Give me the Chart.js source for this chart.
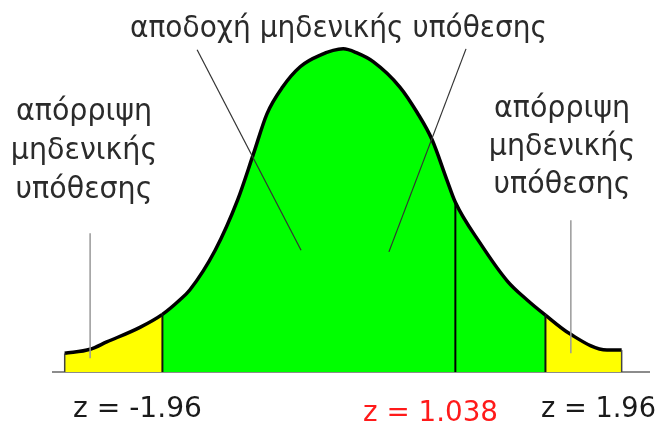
<!DOCTYPE html>
<html>
<head>
<meta charset="utf-8">
<script src="https://cdn.jsdelivr.net/npm/chart.js@4.4.1/dist/chart.umd.min.js"></script>
<style>
  html, body { margin: 0; padding: 0; background: #fff; }
</style>
</head>
<body>
<canvas id="normalChart" width="660" height="426"></canvas>
<script>
// z positions along the curve and the height of the curve at each one
const zValues = [-2.96, -2.70, -2.53, -2.19, -1.96, -1.78, -1.68, -1.42, -1.19, -1.03, -0.89, -0.73, -0.55, -0.35, -0.11, 0.03, 0.20, 0.47, 0.65, 0.80, 0.95, 1.038, 1.29, 1.57, 1.77, 1.96, 2.21, 2.59, 2.74];
const density = [0.023, 0.028, 0.037, 0.055, 0.071, 0.089, 0.101, 0.150, 0.212, 0.268, 0.318, 0.351, 0.376, 0.390, 0.398, 0.393, 0.382, 0.351, 0.319, 0.286, 0.237, 0.209, 0.159, 0.112, 0.089, 0.070, 0.047, 0.027, 0.027];

const criticalZ = [-1.96, 1.96];
const testZ = 1.038;

const titleText = 'αποδοχή μηδενικής υπόθεσης';
const rejectLines = ['απόρριψη', 'μηδενικής', 'υπόθεσης'];

const GREEN = '#00ff00';
const YELLOW = '#ffff00';

const curvePoints = zValues.map((z, i) => ({ x: z, y: density[i] }));

// vertical line from the baseline up to the curve at a given z
const dropLine = function (z, color, width) {
  const i = zValues.indexOf(z);
  return {
    data: [{ x: z, y: 0 }, { x: z, y: density[i] }],
    borderColor: color,
    borderWidth: width,
    pointRadius: 0,
    fill: false,
    order: 1
  };
};

const inReject = z => z < criticalZ[0] || z >= criticalZ[1];

// horizontally squeezed text, fitted to a width
const fitText = function (ctx, text, x, y, width, font, color) {
  ctx.save();
  ctx.font = font;
  ctx.fillStyle = color;
  ctx.textAlign = 'left';
  ctx.textBaseline = 'alphabetic';
  const w = ctx.measureText(text).width;
  ctx.translate(x, y);
  ctx.scale(width / w, 1);
  ctx.fillText(text, 0, 0);
  ctx.restore();
};

const squeezeText = function (ctx, text, cx, y, sx, font, color) {
  ctx.save();
  ctx.font = font;
  ctx.fillStyle = color;
  ctx.textAlign = 'center';
  ctx.textBaseline = 'alphabetic';
  ctx.translate(cx, y);
  ctx.scale(sx, 1);
  ctx.fillText(text, 0, 0);
  ctx.restore();
};

const baselinePlugin = {
  id: 'baseline',
  beforeDatasetsDraw(chart) {
    const { ctx, chartArea, scales } = chart;
    const y0 = scales.y.getPixelForValue(0);
    ctx.save();
    ctx.strokeStyle = '#8c8c8c';
    ctx.lineWidth = 2;
    ctx.beginPath();
    ctx.moveTo(chartArea.left, y0);
    ctx.lineTo(chartArea.right, y0);
    ctx.stroke();
    ctx.restore();
  }
};

const labelsPlugin = {
  id: 'labels',
  afterDraw(chart) {
    const { ctx, scales } = chart;
    const px = z => scales.x.getPixelForValue(z);
    const py = v => scales.y.getPixelForValue(v);

    const seg = function (a, b, color, width) {
      ctx.save();
      ctx.strokeStyle = color;
      ctx.lineWidth = width;
      ctx.beginPath();
      ctx.moveTo(px(a[0]), py(a[1]));
      ctx.lineTo(px(b[0]), py(b[1]));
      ctx.stroke();
      ctx.restore();
    };

    // pointers from the labels into the regions
    seg([-1.605, 0.397], [-0.541, 0.150], '#333', 1.2);
    seg([1.147, 0.398], [0.358, 0.148], '#333', 1.2);
    seg([-2.70, 0.171], [-2.70, 0.017], '#999', 1.5);
    seg([2.22, 0.187], [2.22, 0.023], '#999', 1.5);

    const textColor = '#2b2b2b';
    const greekFont = '31px "DejaVu Sans"';
    fitText(ctx, titleText, 130, 37, 417, greekFont, textColor);

    rejectLines.forEach((line, i) => {
      squeezeText(ctx, line, 84, 120 + i * 39, 0.92, greekFont, textColor);
      squeezeText(ctx, line, 562, 117 + i * 38, 0.92, greekFont, textColor);
    });

    const zFont = '28px "DejaVu Sans"';
    fitText(ctx, 'z = ' + criticalZ[0], 73, 417, 129, zFont, '#1a1a1a');
    fitText(ctx, 'z = ' + testZ, 363, 421, 135, zFont, '#ff1a1a');
    fitText(ctx, 'z = ' + criticalZ[1], 541, 417, 115, zFont, '#1a1a1a');
  }
};

const data = {
  datasets: [
    dropLine(zValues[0], '#444', 1.5),
    dropLine(criticalZ[0], '#111', 2),
    dropLine(testZ, '#000', 2),
    dropLine(criticalZ[1], '#111', 2),
    dropLine(zValues[zValues.length - 1], '#444', 1.5),
    {
      data: curvePoints,
      borderColor: '#000',
      borderWidth: 3.5,
      backgroundColor: GREEN,
      fill: 'origin',
      pointRadius: 0,
      cubicInterpolationMode: 'monotone',
      segment: {
        backgroundColor: ctx => inReject(ctx.p0.parsed.x) ? YELLOW : GREEN
      },
      order: 2
    }
  ]
};

const config = {
  type: 'line',
  data: data,
  options: {
    responsive: false,
    animation: false,
    devicePixelRatio: 1,
    layout: { padding: { left: 52, right: 10, top: 31, bottom: 54 } },
    plugins: {
      legend: { display: false },
      tooltip: { enabled: false }
    },
    scales: {
      x: { type: 'linear', min: -3.09, max: 3.03, display: false },
      y: { min: 0, max: 0.42, display: false }
    }
  },
  plugins: [baselinePlugin, labelsPlugin]
};

const normalChart = new Chart(document.getElementById('normalChart'), config);
</script>
</body>
</html>
